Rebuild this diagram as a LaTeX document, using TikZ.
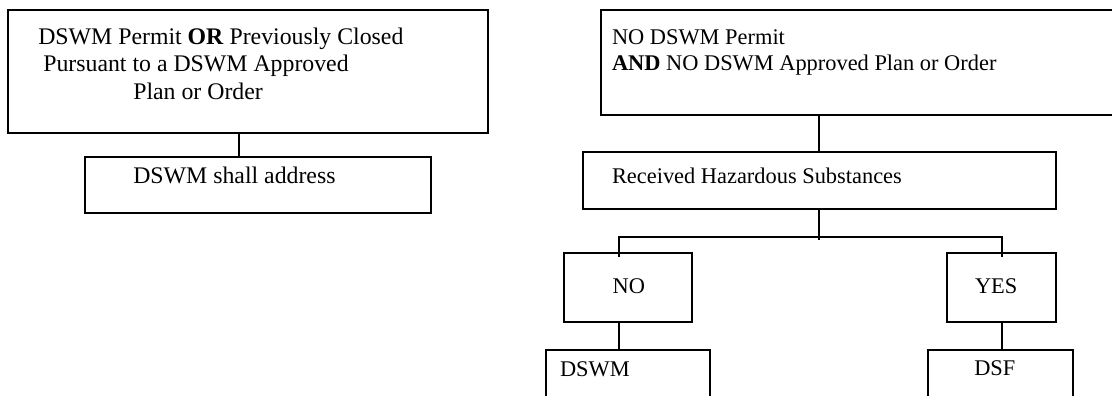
\documentclass[tikz,border=0pt]{standalone}
\usepackage{fontspec}
\setmainfont{Liberation Serif}
\begin{document}
\begin{tikzpicture}[x=1pt,y=-1pt,
  box/.style={draw=black, line width=1.8pt, rectangle, inner sep=0pt, outer sep=0pt},
  txt/.style={anchor=base west, inner sep=0pt, outer sep=0pt, font=\fontsize{22.4pt}{26.8pt}\selectfont},
  bigtxt/.style={txt, font=\fontsize{23.8pt}{27pt}\selectfont},
  conn/.style={draw=black, line width=1.8pt}]
\useasboundingbox (0,0) rectangle (1112,396);
\clip (0,0) rectangle (1112,396);
% boxes
\node[box, minimum width=480.3pt, minimum height=123.3pt] (tl) at (248.15,71.65) {};
\node[box, minimum width=345.7pt, minimum height=56.6pt] (tla) at (257.85,185) {};
\node[box, minimum width=529.3pt, minimum height=105pt] (tr) at (865.35,62.5) {};
\node[box, minimum width=473.3pt, minimum height=57.6pt] (rhs) at (819.35,180.5) {};
\node[box, minimum width=127.7pt, minimum height=68.4pt] (no) at (628.15,287.5) {};
\node[box, minimum width=109pt, minimum height=68.4pt] (yes) at (1001.2,287.5) {};
\node[box, minimum width=164.3pt, minimum height=70pt] (dswm) at (627.85,385) {};
\node[box, minimum width=145pt, minimum height=70pt] (dsf) at (1000.8,385) {};
% texts
\node[bigtxt] (t1) at (38.3,45) {DSWM Permit \textbf{OR} Previously Closed};
\node[bigtxt] (t2) at (43.3,72) {Pursuant to a DSWM Approved};
\node[bigtxt] (t3) at (133.3,99.5) {Plan or Order};
\node[txt] (t4) at (612,44.3) {NO DSWM Permit};
\node[txt] (t5) at (612,70.5) {\textbf{AND} NO DSWM Approved Plan or Order};
\node[txt] (t6) at (612,183.3) {Received Hazardous Substances};
\node[bigtxt] (t7) at (133.3,183.3) {DSWM shall address};
\node[txt] (t8) at (612.7,293.3) {NO};
\node[txt] (t9) at (975,293.3) {YES};
\node[txt] (t10) at (560,376) {DSWM};
\node[txt] (t11) at (974.3,375.7) {DSF};
% connector helper coordinates
\coordinate (cl) at (238.7,0);
\coordinate (hl) at (619.3,237.3);
\coordinate (hr) at (1001.7,237.3);
% connectors
\draw[conn] (cl |- tl.south) -- (cl |- tla.north);
\draw[conn] (rhs.north |- tr.south) -- (rhs.north);
\draw[conn] (rhs.south) -- ++(0,30.7);
\draw[conn] ([yshift=-3.4pt]hl |- no.north) -- (hl) -- (hr) -- ([yshift=-3.4pt]hr |- yes.north);
\draw[conn] (hl |- no.south) -- (hl |- dswm.north);
\draw[conn] (hr |- yes.south) -- (hr |- dsf.north);
\end{tikzpicture}
\end{document}
